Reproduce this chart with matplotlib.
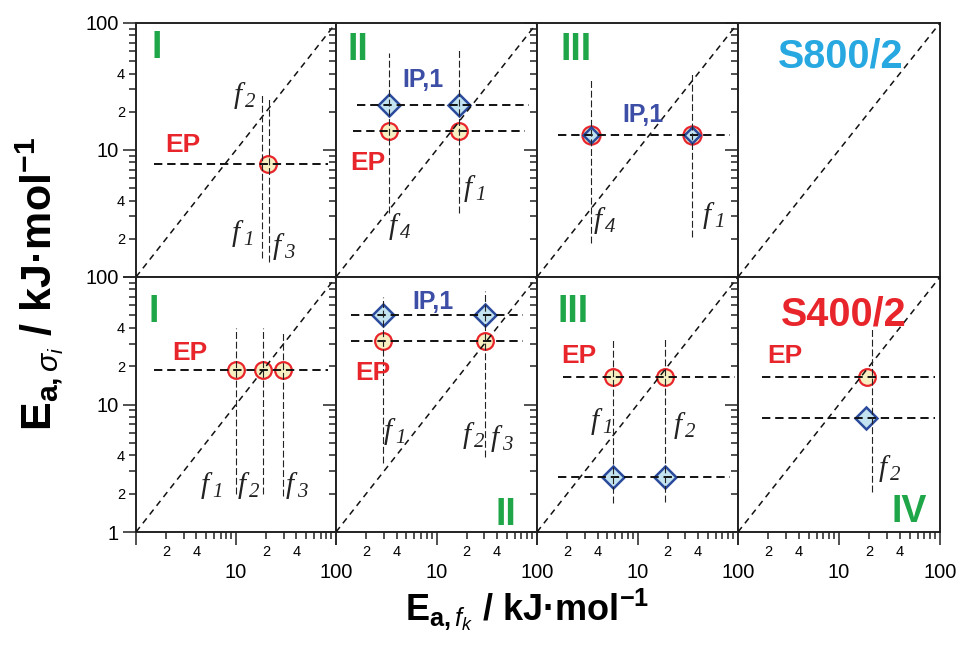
import matplotlib
matplotlib.use('Agg')
import matplotlib.pyplot as plt
from matplotlib.ticker import FixedLocator, FixedFormatter

plt.rcParams['font.family'] = ['Liberation Sans', 'DejaVu Sans']
plt.rcParams['mathtext.fontset'] = 'custom'
plt.rcParams['mathtext.rm'] = 'Liberation Sans'
plt.rcParams['mathtext.it'] = 'Liberation Sans:italic'
plt.rcParams['mathtext.bf'] = 'Liberation Sans:bold'
plt.rcParams['lines.scale_dashes'] = False

# ---------------- data ----------------
# axis ticks
major_ticks = [1, 10, 100]
minor_ticks = [2, 3, 4, 5, 6, 7, 8, 9, 20, 30, 40, 50, 60, 70, 80, 90]
minor_labels = ['2', '', '4', '', '', '', '', '', '2', '', '4', '', '', '', '', '']

# ---- top row: S800/2 ----
# panel I
t1_ep_x = [20.7]; t1_ep_y = [7.8]
t1_ip_x = [];     t1_ip_y = []
t1_h_y = [7.8];   t1_h_x0 = [1.5];  t1_h_x1 = [83]
t1_v_x = [18.1, 21.2]; t1_v_y0 = [1.41, 1.31]; t1_v_y1 = [27.6, 26.0]
t1_f_sub = ['2', '1', '3']
t1_f_x = [11.6, 11.1, 28.4]; t1_f_y = [26.1, 2.14, 1.69]
# panel II
t2_ep_x = [3.37, 16.7]; t2_ep_y = [14.1, 14.1]
t2_ip_x = [3.37, 16.7]; t2_ip_y = [22.6, 22.6]
t2_h_y = [22.6, 14.1]; t2_h_x0 = [1.6, 1.48]; t2_h_x1 = [83, 76]
t2_v_x = [3.37, 16.7]; t2_v_y0 = [3.2, 3.2]; t2_v_y1 = [58, 63]
t2_f_sub = ['1', '4']
t2_f_x = [23.1, 4.14]; t2_f_y = [4.84, 2.43]
# panel III
t3_ep_x = [3.44, 34.8]; t3_ep_y = [13.1, 13.1]
t3_ip_x = [3.44, 34.8]; t3_ip_y = [13.1, 13.1]
t3_h_y = [13.1]; t3_h_x0 = [1.6]; t3_h_x1 = [83]
t3_v_x = [3.44, 34.8]; t3_v_y0 = [1.85, 2.07]; t3_v_y1 = [36.9, 41.0]
t3_f_sub = ['4', '1']
t3_f_x = [4.54, 55]; t3_f_y = [2.71, 2.97]

# ---- bottom row: S400/2 ----
# panel I
b1_ep_x = [10.0, 18.8, 29.7]; b1_ep_y = [18.6, 18.6, 18.6]
b1_ip_x = []; b1_ip_y = []
b1_h_y = [18.6]; b1_h_x0 = [1.5]; b1_h_x1 = [83]
b1_v_x = [10.0, 18.8, 29.7]; b1_v_y0 = [2.0, 2.0, 1.9]; b1_v_y1 = [39.8, 39.8, 37.0]
b1_f_sub = ['1', '2', '3']
b1_f_x = [5.45, 12.7, 38.2]; b1_f_y = [2.25, 2.25, 2.25]
# panel II
b2_ep_x = [2.94, 30.4]; b2_ep_y = [31.7, 31.7]
b2_ip_x = [2.94, 30.4]; b2_ip_y = [50.3, 50.3]
b2_h_y = [50.3, 31.7]; b2_h_x0 = [1.41, 1.41]; b2_h_x1 = [72.7, 72.7]
b2_v_x = [2.94, 30.4]; b2_v_y0 = [3.47, 3.9]; b2_v_y1 = [69.6, 77.6]
b2_f_sub = ['1', '2', '3']
b2_f_x = [3.69, 22.5, 42.9]; b2_f_y = [5.98, 5.56, 5.27]
# panel III
b3_ep_x = [5.7, 18.8]; b3_ep_y = [16.4, 16.4]
b3_ip_x = [5.7, 18.8]; b3_ip_y = [2.72, 2.72]
b3_h_y = [16.4, 2.72]; b3_h_x0 = [1.82, 1.62]; b3_h_x1 = [93, 83]
b3_v_x = [5.7, 18.8]; b3_v_y0 = [1.69, 1.72]; b3_v_y1 = [33, 34]
b3_f_sub = ['1', '2']
b3_f_x = [4.24, 28.4]; b3_f_y = [7.16, 6.66]
# panel IV
b4_ep_x = [18.8]; b4_ep_y = [16.4]
b4_ip_x = [18.6]; b4_ip_y = [7.8]
b4_h_y = [16.4, 7.8]; b4_h_x0 = [1.73, 1.73]; b4_h_x1 = [89, 89]
b4_v_x = [21.4]; b4_v_y0 = [2.06]; b4_v_y1 = [40]
b4_f_sub = ['2']
b4_f_x = [30.4]; b4_f_y = [3.06]

# panel annotations: (text, x, y, kind)
t1_notes = [('I', 1.62, 63.5, 'roman'), ('EP', 2.94, 10.9, 'ep')]
t2_notes = [('II', 1.66, 61.3, 'roman'), ('IP,1', 7.34, 35.6, 'ip'), ('EP', 2.08, 7.9, 'ep')]
t3_notes = [('III', 2.44, 61.3, 'roman'), ('IP,1', 11.3, 18.9, 'ip')]
t4_notes = [('S800/2', 10.3, 54.0, 's800')]
b1_notes = [('I', 1.51, 53.1, 'roman'), ('EP', 3.45, 25.3, 'ep')]
b2_notes = [('IP,1', 9.23, 63.7, 'ip'), ('EP', 2.33, 17.7, 'ep'), ('II', 49.2, 1.36, 'roman')]
b3_notes = [('III', 2.28, 53.1, 'roman'), ('EP', 2.62, 24.0, 'ep')]
b4_notes = [('S400/2', 11.1, 50.4, 's400'), ('EP', 2.94, 24.0, 'ep'), ('IV', 49.2, 1.44, 'roman')]

diag = [1, 100]

# ---------------- styling ----------------
RED = '#e8252b'
EP_FACE = '#f6efc2'
IP_EDGE = '#2b4a9c'
IP_FACE = '#c2e3ef'
IP_TEXT = '#3c4ea6'
GREEN = '#1fa648'
SKY = '#27a8e0'

note_style = {
    'roman': dict(color=GREEN, fontsize=27, fontweight='bold'),
    'ep': dict(color=RED, fontsize=19, fontweight='bold'),
    'ip': dict(color=IP_TEXT, fontsize=18, fontweight='bold'),
    's800': dict(color=SKY, fontsize=28.5, fontweight='bold'),
    's400': dict(color=RED, fontsize=28.5, fontweight='bold'),
}
f_style = dict(family='Liberation Serif', style='italic', color='#222222', zorder=5)

W, H = 960, 652
fig = plt.figure(figsize=(9.6, 6.52), dpi=100)
col_px = [136, 336, 537, 738, 940]
row_px = [23, 277, 532]


def make_axes(ci, ri):
    x0, x1 = col_px[ci], col_px[ci + 1]
    y0, y1 = row_px[ri], row_px[ri + 1]
    ax = fig.add_axes([x0 / W, 1 - y1 / H, (x1 - x0) / W, (y1 - y0) / H])
    ax.set_xscale('log')
    ax.set_yscale('log')
    ax.set_xlim(1, 100)
    ax.set_ylim(1, 100)
    for s in ax.spines.values():
        s.set_linewidth(1.4)
        s.set_color('#222222')
    for axis in (ax.xaxis, ax.yaxis):
        axis.set_major_locator(FixedLocator(major_ticks))
        axis.set_minor_locator(FixedLocator(minor_ticks))
    ax.tick_params(which='both', direction='out', top=False, right=False,
                   color='#222222', width=1.1)
    ax.tick_params(which='major', length=9.5)
    ax.tick_params(which='minor', length=5)
    if ci == 0:
        ylab = ['1' if ri == 1 else '', '10', '100']
        ax.yaxis.set_major_formatter(FixedFormatter(ylab))
        ax.yaxis.set_minor_formatter(FixedFormatter(minor_labels))
        ax.tick_params(axis='y', which='major', labelsize=14.5, pad=3)
        ax.tick_params(axis='y', which='minor', labelsize=10.5, pad=3)
    else:
        ax.tick_params(axis='y', which='both', labelleft=False)
    if ri == 1:
        ax.xaxis.set_major_formatter(FixedFormatter(['', '10', '100']))
        ax.xaxis.set_minor_formatter(FixedFormatter(minor_labels))
        ax.tick_params(axis='x', which='major', labelsize=14.5, pad=13)
        ax.tick_params(axis='x', which='minor', labelsize=10.5, pad=4.5)
    else:
        ax.tick_params(axis='x', which='both', labelbottom=False)
    ax.plot(diag, diag, color='#111111', lw=1.1, ls=(0, (4.5, 3.5)), zorder=3)
    return ax


def draw_panel(ax, ep_x, ep_y, ip_x, ip_y, h_y, h_x0, h_x1, v_x, v_y0, v_y1,
               f_sub, f_x, f_y, notes, ip_ms=10.8, ep_ms=12):
    for y, a, b in zip(h_y, h_x0, h_x1):
        ax.plot([a, b], [y, y], color='#111111', lw=1.4, ls=(0, (6, 3.5)), zorder=4)
    for x, a, b in zip(v_x, v_y0, v_y1):
        ax.plot([x, x], [a, b], color='#222222', lw=0.8, ls=(0, (5, 2)), zorder=4)
    if ep_x:
        ax.plot(ep_x, ep_y, ls='none', marker='o', ms=ep_ms, mfc=EP_FACE, mec=RED,
                mew=1.6, zorder=2)
    if ip_x:
        ax.plot(ip_x, ip_y, ls='none', marker='D', ms=ip_ms, mfc=IP_FACE, mec=IP_EDGE,
                mew=1.8, zorder=2.5)
    for s, x, y in zip(f_sub, f_x, f_y):
        ax.annotate('f', xy=(x, y), xytext=(-3.5, 1), textcoords='offset points',
                    fontsize=21, ha='center', va='center', **f_style)
        ax.annotate(s, xy=(x, y), xytext=(5.5, -4), textcoords='offset points',
                    fontsize=15, ha='center', va='center', **f_style)
    for t, x, y, kind in notes:
        ax.text(x, y, t, ha='center', va='center', zorder=5, **note_style[kind])


ax = make_axes(0, 0)
draw_panel(ax, t1_ep_x, t1_ep_y, t1_ip_x, t1_ip_y, t1_h_y, t1_h_x0, t1_h_x1,
           t1_v_x, t1_v_y0, t1_v_y1, t1_f_sub, t1_f_x, t1_f_y, t1_notes)
ax = make_axes(1, 0)
draw_panel(ax, t2_ep_x, t2_ep_y, t2_ip_x, t2_ip_y, t2_h_y, t2_h_x0, t2_h_x1,
           t2_v_x, t2_v_y0, t2_v_y1, t2_f_sub, t2_f_x, t2_f_y, t2_notes)
ax = make_axes(2, 0)
draw_panel(ax, t3_ep_x, t3_ep_y, t3_ip_x, t3_ip_y, t3_h_y, t3_h_x0, t3_h_x1,
           t3_v_x, t3_v_y0, t3_v_y1, t3_f_sub, t3_f_x, t3_f_y, t3_notes,
           ip_ms=8.2, ep_ms=13)
ax = make_axes(3, 0)
draw_panel(ax, [], [], [], [], [], [], [], [], [], [], [], [], [], t4_notes)

ax = make_axes(0, 1)
draw_panel(ax, b1_ep_x, b1_ep_y, b1_ip_x, b1_ip_y, b1_h_y, b1_h_x0, b1_h_x1,
           b1_v_x, b1_v_y0, b1_v_y1, b1_f_sub, b1_f_x, b1_f_y, b1_notes)
ax = make_axes(1, 1)
draw_panel(ax, b2_ep_x, b2_ep_y, b2_ip_x, b2_ip_y, b2_h_y, b2_h_x0, b2_h_x1,
           b2_v_x, b2_v_y0, b2_v_y1, b2_f_sub, b2_f_x, b2_f_y, b2_notes)
ax = make_axes(2, 1)
draw_panel(ax, b3_ep_x, b3_ep_y, b3_ip_x, b3_ip_y, b3_h_y, b3_h_x0, b3_h_x1,
           b3_v_x, b3_v_y0, b3_v_y1, b3_f_sub, b3_f_x, b3_f_y, b3_notes)
ax = make_axes(3, 1)
draw_panel(ax, b4_ep_x, b4_ep_y, b4_ip_x, b4_ip_y, b4_h_y, b4_h_x0, b4_h_x1,
           b4_v_x, b4_v_y0, b4_v_y1, b4_f_sub, b4_f_x, b4_f_y, b4_notes)

fig.text(40 / W, 1 - 284 / H,
         r'E$_{\mathbf{a,}\mathit{\sigma_i}}$ / kJ·mol$^{\mathbf{-1}}$',
         rotation=90, ha='center', va='center', fontsize=31, fontweight='bold')
fig.text(527 / W, 1 - 610 / H,
         r'E$_{\mathbf{a,}\mathit{f_k}}$ / kJ·mol$^{\mathbf{-1}}$',
         ha='center', va='center', fontsize=26, fontweight='bold')

fig.savefig('out.png', dpi=100)
